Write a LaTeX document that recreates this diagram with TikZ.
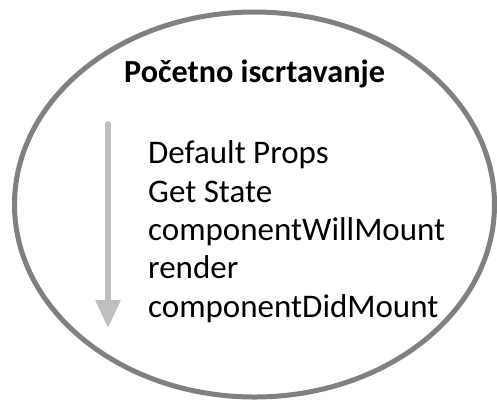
\documentclass[tikz,border=0pt]{standalone}
\usepackage{fontspec}
\setmainfont{Carlito}
\usetikzlibrary{arrows.meta}
\definecolor{ringgray}{HTML}{808080}
\definecolor{arrowgray}{HTML}{BFBFBF}
\tikzset{
  ring/.style={draw=ringgray, line width=5pt},
  item/.style={anchor=base west, inner sep=0pt, font=\fontsize{33}{39}\selectfont},
  titletext/.style={anchor=base west, inner sep=0pt, font=\bfseries\fontsize{32.2}{37}\selectfont},
  flow/.style={draw=arrowgray, line width=6pt, line cap=round, -{Triangle[width=24pt,length=28pt]}}
}
\begin{document}
\begin{tikzpicture}[x=1pt,y=-1pt]
\useasboundingbox (0,0) rectangle (497,400);
\draw[ring] (254.5,204.5) ellipse [x radius=240, y radius=192.5];
\node[titletext] (title) at (124,82) {Početno iscrtavanje};
\node[item] (i1) at (148,163) {Default Props};
\node[item] (i2) at (148,202) {Get State};
\node[item] (i3) at (148,240) {componentWillMount};
\node[item] (i4) at (148,278.5) {render};
\node[item] (i5) at (148,317) {componentDidMount};
\coordinate (astart) at (108,124);
\coordinate (aend) at (108,328);
\draw[flow] (astart) -- (aend);
\end{tikzpicture}
\end{document}
